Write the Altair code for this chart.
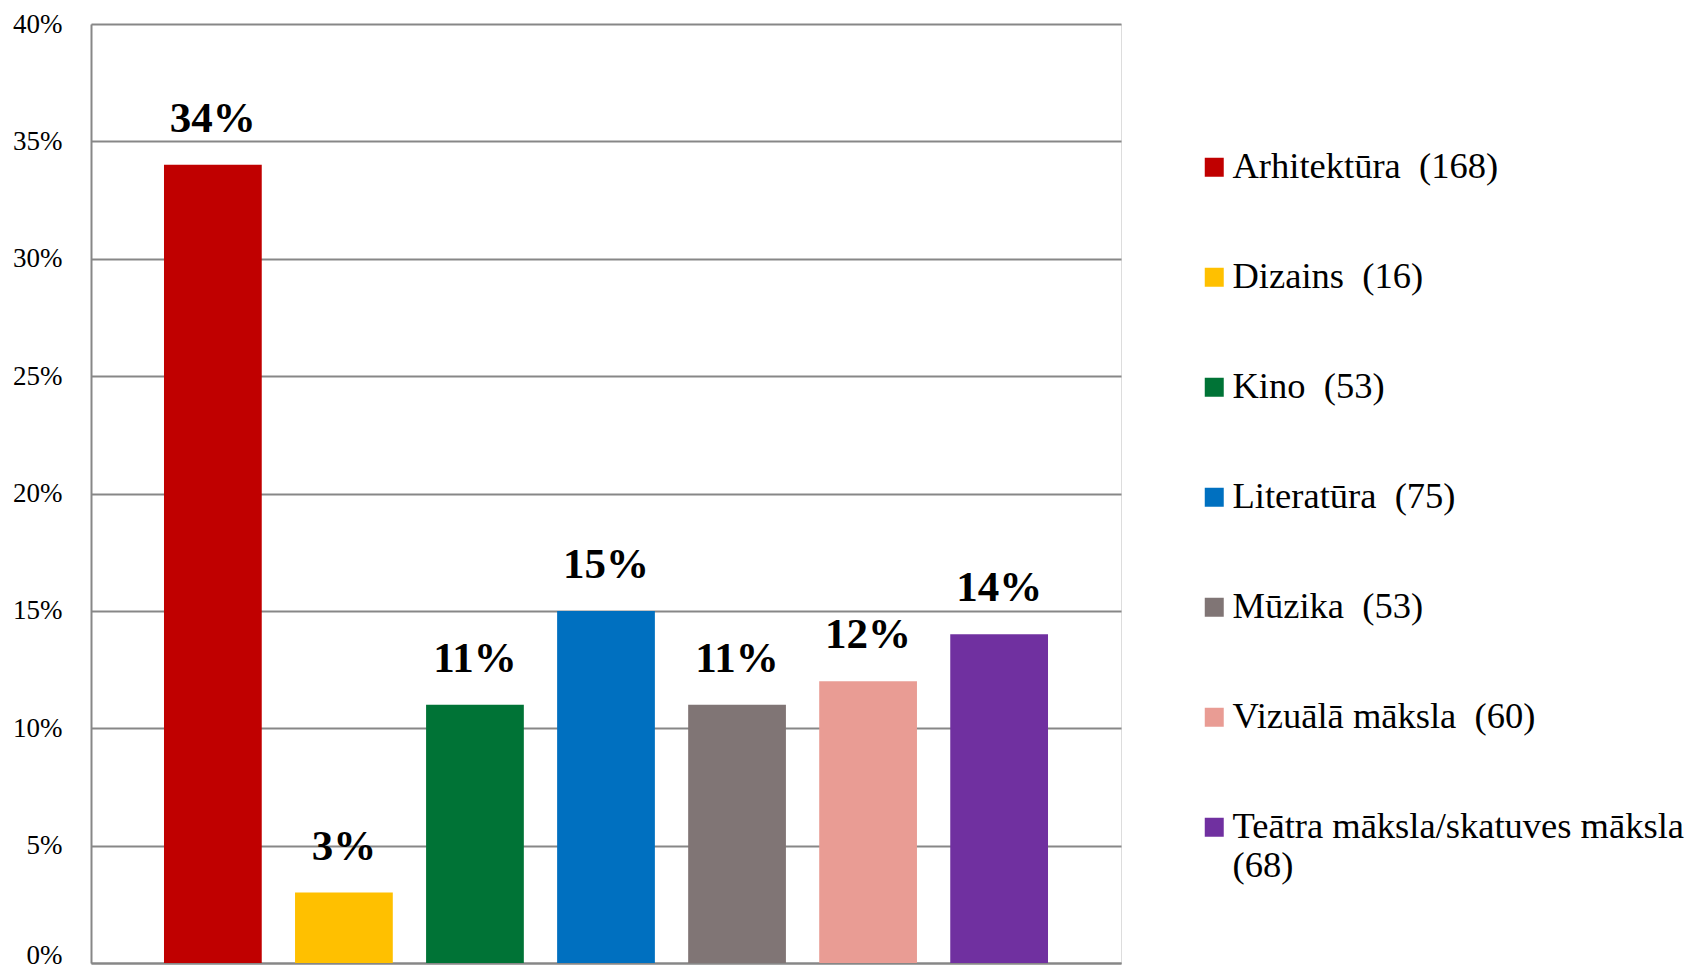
import altair as alt
import pandas as pd

categories = ["Arhitektūra", "Dizains", "Kino", "Literatūra", "Mūzika",
              "Vizuālā māksla", "Teātra māksla/skatuves māksla"]
counts = [168, 16, 53, 75, 53, 60, 68]
percents = [34, 3, 11, 15, 11, 12, 14]
colors = ["#C00000", "#FFC000", "#007336", "#0070C0", "#807575", "#E99C94", "#7030A0"]
y_ticks = [0, 5, 10, 15, 20, 25, 30, 35, 40]

labels = []
for c, n in zip(categories, counts):
    if c.startswith("Teātra"):
        labels.append(f"{c}|({n})")
    else:
        labels.append(f"{c}\u00a0 ({n})")

df = pd.DataFrame({"label": labels, "pct": percents})

FONT = "Liberation Serif"

x = alt.X("label:N", sort=labels, title=None,
          scale=alt.Scale(paddingInner=0.254, paddingOuter=0.557),
          axis=alt.Axis(labels=False, ticks=False, domainColor="#878787",
                        domainWidth=2, grid=False))
y = alt.Y("pct:Q", title=None,
          scale=alt.Scale(domain=[0, 40], nice=False),
          axis=alt.Axis(values=y_ticks, labelExpr="datum.value + '%'",
                        ticks=False, domainColor="#878787", domainWidth=2,
                        gridColor="#878787", gridWidth=2,
                        labelFont=FONT, labelFontSize=27, labelColor="#000000",
                        labelBaseline={"condition": {"test": "datum.value == 0",
                                                     "value": "alphabetic"},
                                       "value": "middle"},
                        labelPadding=29))

bars = alt.Chart(df).mark_bar().encode(
    x=x, y=y,
    color=alt.Color("label:N", sort=labels,
                    scale=alt.Scale(domain=labels, range=colors),
                    legend=alt.Legend(
                        title=None, orient="none", legendX=1105, legendY=125,
                        symbolType="square", symbolSize=361, symbolStrokeWidth=0,
                        labelFont=FONT, labelFontSize=36.5, labelColor="#000000",
                        labelOffset=0, labelLimit=700, rowPadding=73, padding=0,
                        labelExpr="split(datum.label, '|')")),
)

texts = alt.Chart(df).mark_text(
    font=FONT, fontSize=43, fontWeight="bold", color="#000000",
    baseline="alphabetic", dy=-33,
).encode(
    x=alt.X("label:N", sort=labels),
    y=alt.Y("pct:Q"),
    text=alt.Text("pctlabel:N"),
).transform_calculate(pctlabel="datum.pct + '%'")

chart = alt.layer(bars, texts).properties(
    width=1030, height=939,
    autosize=alt.AutoSizeParams(type="none"),
    padding={"left": 83, "top": 16, "right": 573, "bottom": 3},
).configure_view(stroke=None).configure(background="#ffffff")

chart.save("out.html", embed_options={"renderer": "svg", "actions": False})
